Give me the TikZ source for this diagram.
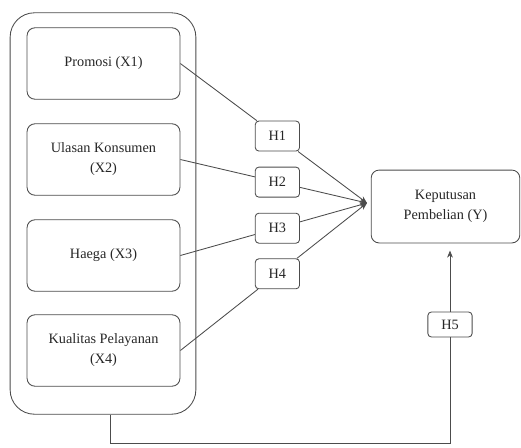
\documentclass[tikz,border=0pt]{standalone}
\usepackage{fontspec}
\setmainfont{Liberation Serif}
\usetikzlibrary{calc,arrows.meta}

\tikzset{
  varbox/.style={draw=black!70, line width=.6pt, rounded corners=5.5pt, minimum width=107pt, minimum height=50pt, align=center, text=black!85},
  hbox/.style={draw=black!70, line width=.6pt, fill=white, rounded corners=2.5pt, minimum width=31pt, minimum height=21pt, text=black!85},
  link/.style={draw=black!70, line width=.6pt},
  tip/.style={link, -{Stealth[length=5pt,width=4pt]}},
}

\begin{document}
\begin{tikzpicture}[x=.7pt,y=-.7pt,font=\fontsize{10}{14}\selectfont]
\useasboundingbox (0,0) rectangle (521,448);
\node[draw=black!70, line width=.6pt, rounded corners=17pt, minimum width=130pt, minimum height=281pt] (group) at (103,213.5) {};
\path (103.5,63.5) node[varbox] (x1) {Promosi (X1)}
	(103.5,159.5) node[varbox] (x2) {Ulasan Konsumen\\(X2)}
	(103.5,255.5) node[varbox] (x3) {Haega (X3)}
	(103.5,350.5) node[varbox] (x4) {Kualitas Pelayanan\\(X4)}
	(445.5,206.5) node[varbox, minimum width=104pt, minimum height=51pt] (y) {Keputusan\\Pembelian (Y)}
	(450,324.5) node[hbox, minimum height=17.5pt] (h5) {H5}
	;
\coordinate (conv) at (367,203);
\coordinate (loop) at (110,443);

\node[hbox] (h1) at ($(x1.east)!.52!(conv)$) {H1};
\node[hbox] (h2) at ($(x2.east)!.52!(conv)$) {H2};
\node[hbox] (h3) at ($(x3.east)!.52!(conv)$) {H3};
\node[hbox] (h4) at ($(x4.east)!.52!(conv)$) {H4};

\foreach \i in {1,2,3,4}{
	\draw[link] (x\i.east) -- (h\i);
	\draw[tip] (h\i) -- (conv);
}
\draw[link] (group.south -| loop) -- (loop) -| (h5);
\draw[tip, shorten >=5pt] (h5) -- (h5 |- y.south);
\end{tikzpicture}
\end{document}
